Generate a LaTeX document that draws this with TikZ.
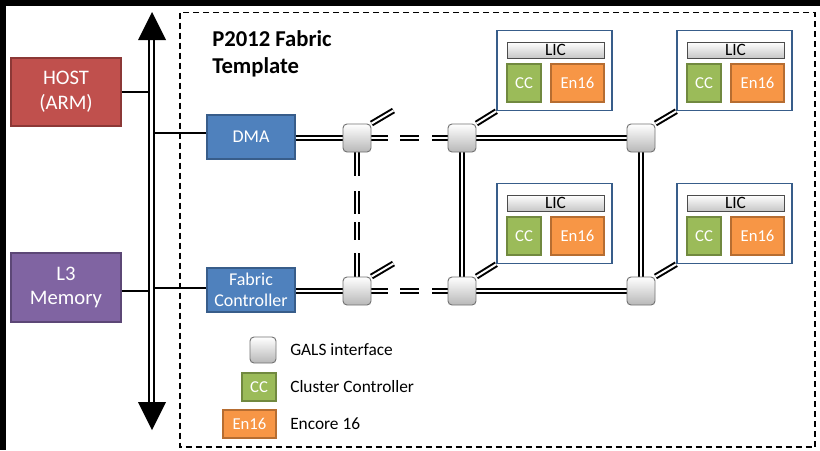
\documentclass[tikz,border=0pt]{standalone}
\usepackage{fontspec}
\setmainfont{Carlito}
\usetikzlibrary{calc}
\definecolor{hostred}{HTML}{C0504D}
\definecolor{hostredd}{HTML}{8C3836}
\definecolor{mempur}{HTML}{8064A2}
\definecolor{mempurd}{HTML}{5C4776}
\definecolor{blk}{HTML}{4F81BD}
\definecolor{blkd}{HTML}{385D8A}
\definecolor{ccgreen}{HTML}{9BBB59}
\definecolor{ccgreend}{HTML}{71893F}
\definecolor{enorange}{HTML}{F79646}
\definecolor{enoranged}{HTML}{B66D31}
\tikzset{
  rail/.style={draw=black, double=white, line width=1.5pt, double distance=1.5pt},
  busrail/.style={draw=black, double=white, line width=1.7pt, double distance=1.6pt},
  wire/.style={draw=black, line width=0.9pt},
  gap/.style={fill=white, draw=none},
  gals/.style={draw=black!55, rounded corners=3pt, top color=white, bottom color=black!28,
    minimum width=21pt, minimum height=21pt, inner sep=0pt, line width=0.7pt},
  colbox/.style={inner sep=0pt, align=center, text=white, line width=0.8pt},
  hostbox/.style={colbox, fill=hostred, draw=hostredd, minimum width=82.5pt, minimum height=51pt,
    font=\fontsize{15.5}{19}\selectfont},
  membox/.style={colbox, fill=mempur, draw=mempurd, minimum width=82.5pt, minimum height=51.75pt,
    font=\fontsize{15.5}{18}\selectfont},
  ipbox/.style={colbox, fill=blk, draw=blkd, minimum width=66pt, minimum height=33pt,
    font=\fontsize{13.5}{15.5}\selectfont},
  ccbox/.style={colbox, fill=ccgreen, draw=ccgreend, font=\fontsize{12.5}{15}\selectfont},
  enbox/.style={colbox, fill=enorange, draw=enoranged, font=\fontsize{12.5}{15}\selectfont},
  licbar/.style={draw=black!70, top color=white, bottom color=black!22, inner sep=0pt,
    line width=0.7pt, minimum width=72.75pt, minimum height=12pt, font=\fontsize{13}{14}\selectfont},
  licframe/.style={draw=blkd, line width=1.1pt, fill=white, minimum width=86.25pt,
    minimum height=60pt, inner sep=0pt},
  legtext/.style={anchor=west, inner sep=0pt, font=\fontsize{13}{15}\selectfont}
}
% #1 name, #2 left x, #3 top y (px)
\newcommand\licgroup[3]{%
  \node[licframe] (#1) at (#2+57.5,#3+40.5) {};
  \node[licbar] (#1lic) at (#2+58.5,#3+20) {LIC};
  \node[ccbox, minimum width=25.5pt, minimum height=28.5pt] (#1cc) at (#2+27,#3+53) {CC};
  \node[enbox, minimum width=39.75pt, minimum height=28.5pt] (#1en) at (#2+80.5,#3+53) {En16};
}
\begin{document}
\begin{tikzpicture}[x=0.75pt,y=-0.75pt]
\useasboundingbox (0,0) rectangle (820,450);
\fill[white] (0,0) rectangle (820,450);
% black frame bands of the reference
\fill[black] (0,0) rectangle (820,6);
\fill[black] (0,0) rectangle (6,450);

% dashed fabric border
\draw[line width=1.2pt, dash pattern=on 4.5pt off 3pt] (180,12.5) rectangle (815,447);

% title
\node[anchor=north west, inner sep=0pt, align=left, font=\bfseries\fontsize{17}{20.5}\selectfont]
  (title) at (212,30) {P2012 Fabric\\Template};

% host side blocks
\node[hostbox] (host) at (66,92) {HOST\\(ARM)};
\node[membox] (mem) at (66,287.5) {L3\\Memory};
\node[ipbox] (dma) at (251,137) {DMA};
\node[ipbox] (fc) at (251,290) {Fabric\\Controller};

% bus
\coordinate (bustop) at (151.5,40);
\coordinate (busbot) at (151.5,402);
\draw[busrail] (bustop) -- (busbot);
\fill[black] (138,40) -- (166,40) -- (152,12) -- cycle;
\fill[black] (138,402) -- (166,402) -- (152,430) -- cycle;

\coordinate (bhost) at (149,92);
\coordinate (bdma) at (154,133);
\coordinate (bmem) at (149,291);
\coordinate (bfc) at (154,288);
\draw[wire] (host.east |- bhost) -- (bhost);
\draw[wire] (bdma) -- (bdma -| dma.west);
\draw[wire] (mem.east |- bmem) -- (bmem);
\draw[wire] (bfc) -- (bfc -| fc.west);

% LIC groups
\licgroup{ctl}{497}{30}
\licgroup{ctr}{677}{30}
\licgroup{cbl}{497}{183}
\licgroup{cbr}{677}{183}

% GALS node positions
\coordinate (p1) at (357,138);
\coordinate (p2) at (462,138);
\coordinate (p3) at (357,291);
\coordinate (p4) at (462,291);
\coordinate (p5) at (641,138);
\coordinate (p6) at (641,291);

% rails
\draw[rail] (dma.east |- p1) -- (p1) -- (p2) -- (p5) -- (p6) -- (p4) -- (p3) -- (fc.east |- p3);
\draw[rail] (p1) -- (p3);
\draw[rail] (p2) -- (p4);

% broken-link gaps
\fill[gap] (388,130) rectangle (400,146);
\fill[gap] (419,130) rectangle (432,146);
\fill[gap] (388,283) rectangle (400,299);
\fill[gap] (419,283) rectangle (432,299);
\fill[gap] (349,176) rectangle (365,191);
\fill[gap] (349,214) rectangle (365,222);
\fill[gap] (349,240) rectangle (365,253);

% GALS interfaces
\node[gals] (n1) at (p1) {};
\node[gals] (n2) at (p2) {};
\node[gals] (n3) at (p3) {};
\node[gals] (n4) at (p4) {};
\node[gals] (n5) at (p5) {};
\node[gals] (n6) at (p6) {};

% diagonal stubs
\coordinate (s1) at ($(n1.north east)+(22,-13)$);
\coordinate (s3) at ($(n3.north east)+(22,-13)$);
\draw[rail] (n1.north east) -- (s1);
\draw[rail] (n3.north east) -- (s3);
\draw[rail] (n2.north east) -- (ctl.south west);
\draw[rail] (n5.north east) -- (ctr.south west);
\draw[rail] (n4.north east) -- (cbl.south west);
\draw[rail] (n6.north east) -- (cbr.south west);

% legend
\node[gals, minimum width=19.5pt, minimum height=19.5pt] (lg) at (263,350) {};
\node[ccbox, minimum width=25.5pt, minimum height=21pt] (lcc) at (259,387) {CC};
\node[enbox, minimum width=39.75pt, minimum height=21pt] (len) at (249.5,424) {En16};
\node[legtext] (tg) at (290,350) {GALS interface};
\node[legtext] (tcc) at (290,387) {Cluster Controller};
\node[legtext] (ten) at (290,424) {Encore 16};
\end{tikzpicture}
\end{document}
